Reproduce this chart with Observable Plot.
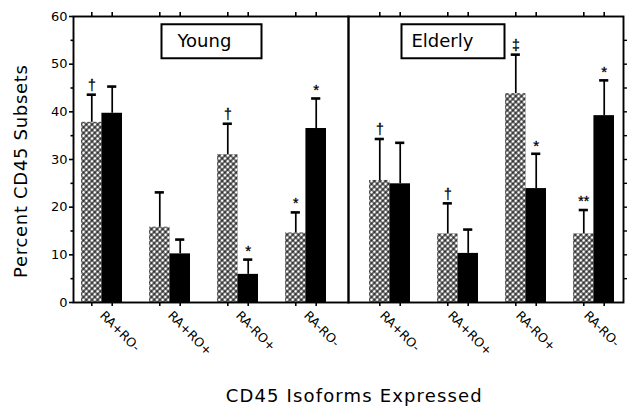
<!DOCTYPE html>
<html><head><meta charset="utf-8">
<script src="https://cdn.jsdelivr.net/npm/d3@7"></script>
<script src="https://cdn.jsdelivr.net/npm/@observablehq/plot@0.6"></script>
<style>body{margin:0;background:#fff}</style>
</head><body><div id="chart"></div>
<script>
// ---- data ----
const panels = ["Young", "Elderly"];
const categories = ["RA+RO-", "RA+RO+", "RA-RO+", "RA-RO-"];
const yTicks = [0, 10, 20, 30, 40, 50, 60];

const youngHatched      = [37.8, 15.8, 31.0, 14.6];
const youngHatchedUpper = [43.6, 23.1, 37.5, 18.9];
const youngHatchedMark  = ["†", "", "†", "*"];
const youngSolid        = [39.7, 10.2, 5.9, 36.5];
const youngSolidUpper   = [45.3, 13.2, 9.0, 42.8];
const youngSolidMark    = ["", "", "*", "*"];

const elderlyHatched      = [25.6, 14.4, 43.8, 14.4];
const elderlyHatchedUpper = [34.3, 20.8, 52.0, 19.4];
const elderlyHatchedMark  = ["†", "†", "‡", "**"];
const elderlySolid        = [24.9, 10.3, 23.9, 39.2];
const elderlySolidUpper   = [33.5, 15.3, 31.2, 46.6];
const elderlySolidMark    = ["", "", "*", "*"];

const yLabel = "Percent CD45 Subsets";
const xLabel = "CD45 Isoforms Expressed";

// ---- table built from the arrays ----
const series = {
  Young: [youngHatched, youngHatchedUpper, youngHatchedMark, youngSolid, youngSolidUpper, youngSolidMark],
  Elderly: [elderlyHatched, elderlyHatchedUpper, elderlyHatchedMark, elderlySolid, elderlySolidUpper, elderlySolidMark]
};
const rows = panels.flatMap(panel => categories.map((category, i) => {
  const [h, hu, hm, s, su, sm] = series[panel];
  return {panel, category, hatched: h[i], hatchedUpper: hu[i], hatchedMark: hm[i],
          solid: s[i], solidUpper: su[i], solidMark: sm[i]};
}));

// ---- layout ----
const W = 629, H = 407;
const mL = 73, mR = 6, mT = 16, mB = 105;
const frameH = H - mT - mB;
const pIn = 0.4, pOut = 0.22;
const facetW = (W - mL - mR) / panels.length;
const step = facetW / (categories.length - pIn + 2 * pOut);
const bw = step * (1 - pIn);
const q = bw / 4;                  // bar centre offset from group centre
const shifts = {Young: -7, Elderly: 6};
const catLabelDx = {Young: 0, Elderly: -8};
const labelDx = {Young: 104, Elderly: 63};
const boxPadLeft = {Young: 15, Elderly: 10};
const boxWidth = {Young: 100, Elderly: 103};

function panelMarks(panel) {
  const d = rows.filter(r => r.panel === panel);
  const s = shifts[panel];
  const common = {fx: "panel", x: "category"};
  const markStyle = {fill: "black", stroke: "black", strokeWidth: 0.3, fontFamily: "Liberation Sans"};
  return [
    Plot.barY(d, {...common, y: "hatched", fill: "url(#hatch)", insetRight: bw / 2, dx: s}),
    Plot.barY(d, {...common, y: "solid", fill: "black", insetLeft: bw / 2, dx: s}),
    Plot.ruleX(d, {...common, y1: "hatched", y2: "hatchedUpper", dx: s - q, stroke: "black", strokeWidth: 1.7}),
    Plot.ruleX(d, {...common, y1: "solid", y2: "solidUpper", dx: s + q, stroke: "black", strokeWidth: 1.7}),
    Plot.tickY(d, {...common, y: "hatchedUpper", dx: s, insetLeft: bw / 4 - 4.5, insetRight: 3 * bw / 4 - 4.5, stroke: "black", strokeWidth: 2.6}),
    Plot.tickY(d, {...common, y: "solidUpper", dx: s, insetLeft: 3 * bw / 4 - 4.5, insetRight: bw / 4 - 4.5, stroke: "black", strokeWidth: 2.6}),
    Plot.text(d.filter(r => r.hatchedMark), {...common, y: "hatchedUpper", text: "hatchedMark", dx: s - q, dy: -9, fontSize: 14, ...markStyle}),
    Plot.text(d.filter(r => r.solidMark), {...common, y: "solidUpper", text: "solidMark", dx: s + q, dy: -8, fontSize: 15, ...markStyle}),
    // top and bottom ticks at bar centres
    ...[-q, q].flatMap(o => [
      Plot.ruleX(d, {...common, dx: s + o, insetTop: -4, insetBottom: frameH, stroke: "black", strokeWidth: 1.6}),
      Plot.ruleX(d, {...common, dx: s + o, insetTop: frameH, insetBottom: -4, stroke: "black", strokeWidth: 1.6})
    ]),
    // rotated category labels
    Plot.text(d, {...common, y: 0, text: "category", rotate: 45, textAnchor: "start", lineAnchor: "middle", dx: s + catLabelDx[panel], dy: 11, fontSize: 12.5, fill: "black"}),
    // panel label
    Plot.text([panel], {fx: p => p, frameAnchor: "top-left", text: p => p, textAnchor: "start", lineAnchor: "middle", dx: labelDx[panel], dy: 25, fontSize: 18, fill: "black"})
  ];
}

const chart = Plot.plot({
  width: W, height: H,
  marginLeft: mL, marginRight: mR, marginTop: mT, marginBottom: mB,
  style: {fontFamily: "'DejaVu Sans', Verdana, sans-serif", fontSize: "13px", color: "black", background: "white"},
  fx: {domain: panels, padding: 0, axis: null},
  x: {domain: categories, paddingInner: pIn, paddingOuter: pOut, axis: null},
  y: {domain: [0, 60], axis: null},
  marks: [
    ...panels.flatMap(panelMarks),
    Plot.axisY({ticks: yTicks, tickSize: 4, tickPadding: 2, fontSize: 13, tickFormat: d3.format("d"), label: null, strokeWidth: 1.6}),
    Plot.axisY({ticks: d3.range(5, 60, 10), tickSize: 2.5, tickFormat: () => "", label: null, strokeWidth: 1.6}),
    Plot.axisY({anchor: "right", ticks: d3.range(5, 60, 5), tickSize: 3, tickFormat: () => "", label: null, strokeWidth: 1.4}),
    Plot.frame({stroke: "black", strokeWidth: 1.9})
  ]
});
document.getElementById("chart").appendChild(chart);

const svg = d3.select(chart);
// crosshatch pattern
const defs = svg.insert("defs", ":first-child");
const T = 4;
const pat = defs.append("pattern").attr("id", "hatch").attr("patternUnits", "userSpaceOnUse")
  .attr("width", T).attr("height", T).attr("patternTransform", "rotate(45)");
pat.append("rect").attr("width", T).attr("height", T).attr("fill", "white");
pat.append("path").attr("d", `M0,${T/2}H${T}M${T/2},0V${T}`).attr("stroke", "black").attr("stroke-width", 1.15);

// boxes round the panel labels (measured on screen)
const sr = chart.getBoundingClientRect();
svg.selectAll("text").filter(function() { return panels.includes(this.textContent); }).each(function() {
  const p = this.textContent;
  const b = this.getBoundingClientRect();
  svg.append("rect")
    .attr("x", b.left - sr.left - boxPadLeft[p]).attr("y", b.top - sr.top - 6)
    .attr("width", boxWidth[p]).attr("height", b.height + 13)
    .attr("fill", "none").attr("stroke", "black").attr("stroke-width", 2);
});

// axis titles
svg.append("text").text(yLabel)
  .attr("transform", "translate(20,171.5) rotate(-90)")
  .attr("text-anchor", "middle").attr("dominant-baseline", "central")
  .attr("font-size", 18).attr("textLength", 213).attr("lengthAdjust", "spacing");
svg.append("text").text(xLabel)
  .attr("x", 353.7).attr("y", 402)
  .attr("text-anchor", "middle")
  .attr("font-size", 18).attr("textLength", 256).attr("lengthAdjust", "spacing");
</script>
</body></html>
